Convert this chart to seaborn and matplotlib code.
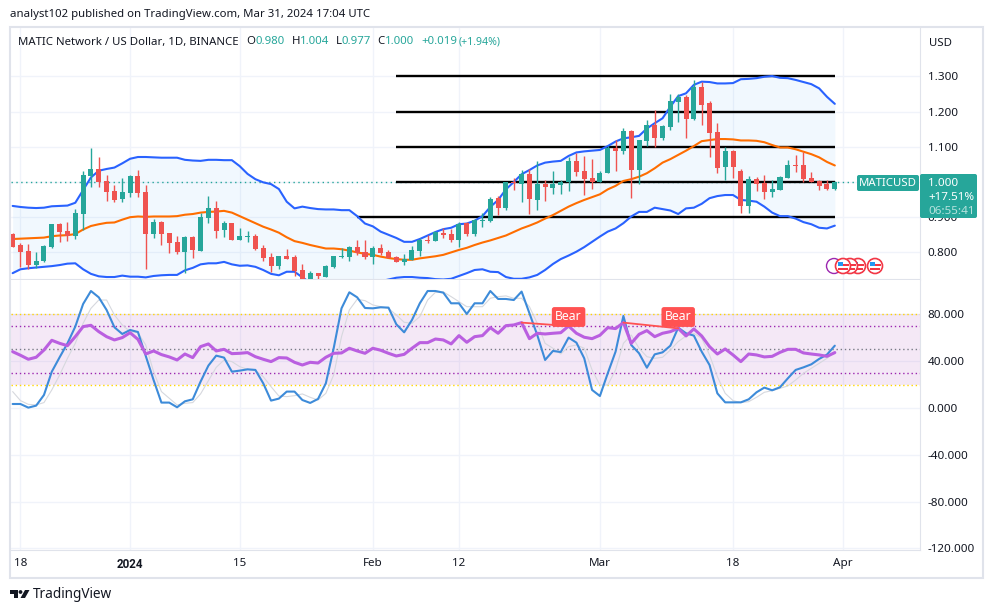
import matplotlib
matplotlib.use('Agg')
import matplotlib.pyplot as plt
from matplotlib.patches import Circle, FancyBboxPatch, Polygon, Rectangle
import numpy as np
import pandas as pd
import seaborn as sns

# Daily candles, 17 Dec 2023 - 31 Mar 2024
opens = [.852,.821,.804,.764,.775,.815,.881,.861,.847,.909,1.017,1.037,1.003,.974,.952,.969,1.017,.972,.852,.886,
         .855,.830,.801,.844,.804,.898,.926,.864,.884,.835,.845,.847,.812,.787,.761,.790,.787,.750,.724,.741,
         .730,.759,.786,.787,.815,.801,.787,.812,.801,.787,.773,.778,.804,.835,.832,.855,.852,.835,.884,.852,
         .889,.889,.955,.926,1.000,.994,1.023,.949,.994,.983,.991,1.000,1.060,1.031,1.011,1.000,1.026,1.097,1.088,1.145,
         1.034,1.116,1.162,1.125,1.156,1.227,1.241,1.179,1.270,1.224,1.142,1.043,1.088,1.031,.932,1.009,.997,.972,.977,1.011,
         1.048,1.048,1.011,1.003,.994,.980]
highs = [.855,.827,.824,.801,.821,.881,.884,.886,.923,1.031,1.097,1.071,1.020,.991,1.011,1.020,1.034,.991,.895,.889,
         .855,.847,.847,.847,.912,.960,.946,.889,.884,.869,.861,.852,.821,.798,.790,.810,.793,.767,.747,.741,
         .764,.790,.812,.818,.835,.835,.818,.824,.807,.790,.795,.818,.841,.849,.861,.869,.866,.886,.886,.895,
         .912,.957,.960,1.000,1.011,1.034,1.037,1.060,1.006,1.031,1.006,1.071,1.082,1.074,1.065,1.031,1.102,1.119,1.153,1.148,
         1.119,1.176,1.205,1.162,1.250,1.250,1.247,1.290,1.284,1.230,1.168,1.099,1.091,1.037,1.017,1.014,1.020,1.006,1.017,1.063,
         1.077,1.085,1.028,1.006,1.006,1.004]
lows = [.816,.758,.752,.755,.773,.812,.830,.832,.838,.864,.986,.986,.946,.943,.943,.957,.957,.753,.841,.821,
        .798,.795,.741,.784,.804,.884,.841,.844,.835,.835,.830,.807,.776,.744,.753,.781,.733,.720,.724,.724,
        .730,.756,.784,.776,.793,.781,.767,.793,.784,.773,.764,.778,.790,.827,.832,.841,.830,.815,.847,.847,
        .872,.886,.906,.920,.977,.943,.909,.920,.946,.966,.966,.974,1.017,.963,.980,1.000,1.026,1.031,1.080,.955,
        .994,1.102,1.099,1.119,1.148,1.170,1.125,1.176,1.162,1.071,1.026,1.006,1.011,.912,.912,.974,.952,.957,.977,1.011,
        1.028,1.000,1.000,.977,.977,.977]
closes = [.816,.801,.764,.776,.818,.881,.858,.847,.912,1.020,1.037,1.000,.972,.949,.972,1.017,.969,.852,.886,.852,
          .827,.801,.844,.807,.901,.926,.861,.884,.835,.847,.847,.810,.784,.761,.790,.781,.747,.724,.741,.733,
          .761,.790,.790,.815,.798,.787,.812,.798,.784,.773,.781,.807,.835,.833,.858,.849,.835,.881,.852,.892,
          .892,.952,.926,1.000,.996,1.022,.952,.994,.986,.994,1.000,1.060,1.028,1.009,1.000,1.026,1.097,1.088,1.145,1.034,
          1.119,1.162,1.125,1.159,1.230,1.241,1.179,1.270,1.219,1.139,1.040,1.088,1.043,.932,1.009,.994,.972,.980,1.014,1.048,
          1.045,1.009,1.000,.989,.980,1.000]

# Bollinger bands
bb_upper = [.932,.929,.927,.926,.927,.931,.932,.933,.941,.977,1.013,1.032,1.037,1.041,1.053,1.066,1.071,1.071,1.070,1.069,
            1.069,1.069,1.063,1.061,1.060,1.063,1.063,1.062,1.062,1.045,1.023,1.008,.999,.994,.980,.944,.925,.930,.926,.923,
            .922,.922,.920,.920,.903,.882,.874,.859,.850,.841,.830,.830,.838,.848,.858,.866,.870,.880,.882,.890,
            .903,.929,.949,.979,1.000,1.022,1.034,1.047,1.055,1.058,1.060,1.074,1.084,1.087,1.089,1.091,1.102,1.115,1.124,1.127,
            1.131,1.152,1.167,1.181,1.214,1.244,1.252,1.276,1.285,1.284,1.280,1.280,1.281,1.292,1.293,1.295,1.299,1.301,1.296,1.295,
            1.290,1.284,1.278,1.266,1.242,1.222]
bb_basis = [.838,.839,.840,.841,.842,.846,.848,.849,.852,.865,.875,.880,.884,.885,.893,.900,.902,.901,.902,.902,
            .902,.903,.907,.909,.913,.915,.916,.918,.913,.903,.893,.883,.873,.865,.856,.843,.832,.827,.821,.816,
            .811,.811,.809,.805,.800,.796,.793,.788,.784,.781,.779,.779,.783,.786,.789,.793,.800,.807,.813,.821,
            .828,.834,.841,.848,.858,.868,.876,.885,.896,.906,.918,.930,.940,.949,.957,.965,.979,.989,1.003,1.008,
            1.015,1.025,1.039,1.055,1.065,1.077,1.089,1.102,1.116,1.119,1.122,1.122,1.121,1.118,1.118,1.117,1.113,1.105,1.098,1.098,
            1.093,1.086,1.079,1.070,1.057,1.047]
bb_lower = [.741,.752,.755,.757,.759,.761,.764,.768,.769,.752,.739,.732,.730,.730,.734,.731,.731,.729,.733,.735,
            .736,.736,.749,.756,.766,.769,.769,.773,.766,.762,.763,.759,.750,.739,.735,.745,.745,.729,.714,.710,
            .707,.705,.703,.703,.703,.705,.710,.718,.723,.728,.730,.730,.728,.727,.724,.723,.725,.733,.741,.750,
            .752,.745,.744,.730,.725,.725,.729,.736,.750,.767,.781,.791,.802,.815,.830,.845,.859,.868,.883,.902,
            .915,.915,.927,.923,.919,.909,.925,.927,.938,.954,.960,.963,.963,.949,.947,.944,.930,.913,.903,.903,
            .896,.886,.880,.870,.868,.876]

# Oscillator panel
rsi = [48.1,45.0,41.6,43.3,49.5,57.8,55.2,53.2,60.9,69.5,70.6,65.2,60.9,58.1,60.1,64.3,58.6,46.1,48.7,45.6,
       43.6,41.0,46.1,43.0,52.4,54.7,48.7,50.1,46.4,46.7,47.3,43.8,41.6,39.6,43.0,42.7,39.0,36.7,39.0,38.4,
       43.3,46.7,47.0,51.0,48.7,46.7,51.0,49.3,46.7,44.4,45.8,51.0,55.8,55.8,58.9,58.1,54.7,61.8,56.1,60.9,
       61.8,68.6,63.8,70.3,70.9,72.9,59.2,63.8,63.2,63.8,64.3,70.0,63.8,60.4,59.2,62.1,68.6,67.8,72.9,55.2,
       62.9,66.1,60.9,63.8,65.2,68.0,61.5,67.5,61.5,52.4,46.1,50.4,45.3,39.6,46.1,45.3,43.6,44.1,47.5,50.1,
       50.1,47.0,46.1,45.3,44.1,47.3]
stoch_k = [3.4,3.4,.3,2.0,11.1,31.0,43.3,55.2,69.5,88.8,99.9,94.5,83.7,68.9,63.2,66.6,64.9,44.4,23.9,4.6,
           4.6,.6,5.7,7.4,22.5,36.2,44.7,43.0,31.0,31.9,33.0,32.5,21.1,6.3,8.0,14.0,14.0,6.8,4.3,7.7,
           21.1,51.0,85.1,98.8,94.5,85.4,85.1,86.0,85.7,71.5,64.6,75.2,89.4,99.9,99.9,98.5,89.4,89.4,80.3,89.4,
           89.4,99.9,93.1,93.1,92.2,99.4,80.9,62.3,41.0,48.7,47.8,60.1,55.8,42.4,15.4,10.2,29.6,48.1,78.6,53.8,
           46.7,34.4,45.8,47.5,53.2,68.6,63.8,61.8,48.1,36.7,12.5,4.8,4.8,4.8,7.4,13.4,17.4,15.1,17.7,25.3,
           32.5,34.7,37.3,41.9,45.6,53.2]
stoch_d = [14.0,6.3,3.1,2.6,4.6,15.4,28.2,42.4,55.2,72.3,85.1,92.2,92.2,79.4,70.9,65.2,64.3,53.8,31.0,14.0,
           8.3,2.6,4.0,4.6,12.0,23.3,34.7,41.0,39.6,35.3,33.0,31.9,26.8,18.2,10.2,9.7,10.5,12.0,9.1,6.8,
           12.5,28.2,60.9,83.7,92.8,91.7,88.0,86.5,85.1,79.4,73.2,72.3,78.0,92.2,98.8,99.1,95.1,90.8,86.5,86.5,
           86.5,93.7,95.1,95.7,93.7,93.7,86.5,72.3,55.2,51.0,46.1,52.4,53.8,51.0,32.5,19.6,19.6,32.5,55.2,62.3,
           51.0,43.8,42.4,43.3,49.5,56.7,61.5,63.8,59.5,45.3,26.8,12.5,6.3,4.6,5.4,9.1,13.4,14.8,16.8,18.8,
           23.9,29.6,33.9,38.1,42.4,48.1]

# Drawn horizontal levels and the day each one starts
level_prices = [1.302, 1.200, 1.100, 1.000, 0.900]
level_starts = ['2024-02-04', '2024-02-04', '2024-02-04', '2024-02-04', '2024-01-30']
level_end = '2024-03-31'

price_ticks = [1.3, 1.2, 1.1, 1.0, 0.9, 0.8]
osc_ticks = [80, 40, 0, -40, -80, -120]
x_tick_dates = ['2023-12-18', '2024-01-01', '2024-01-15', '2024-02-01', '2024-02-12', '2024-03-01', '2024-03-18', '2024-04-01']
x_tick_labels = ['18', '2024', '15', 'Feb', '12', 'Mar', '18', 'Apr']
# start/end day of the two bearish divergence segments
bear_spans = [('2024-02-20', '2024-02-26'), ('2024-03-04', '2024-03-11')]
bear_label_level = 77.7

TEAL = '#26a69a'
RED = '#ef5350'
BLUE = '#2962ff'
ORANGE = '#ff6d00'
GRID = '#f0f3fa'
FRAME = '#e0e3eb'
INK = '#131722'
FONT = 'Noto Sans'

sns.set_style('white')
plt.rcParams['font.family'] = [FONT, 'DejaVu Sans']

dates = pd.date_range('2023-12-17', periods=len(closes))
W, H = 994, 613
fig = plt.figure(figsize=(W / 100, H / 100), dpi=100)


def panel(top, bottom):
    return fig.add_axes([11 / W, 1 - bottom / H, (920 - 11) / W, (bottom - top) / H])


ax = panel(28, 279)
osc = panel(280, 550)
xlim = (pd.Timestamp('2023-12-18') - pd.Timedelta(days=1.21), pd.Timestamp('2023-12-18') + pd.Timedelta(days=114.88))
tick_dates = pd.to_datetime(x_tick_dates)

for a in (ax, osc):
    a.set_xlim(*xlim)
    a.set_xticks(tick_dates)
    a.yaxis.tick_right()
    a.grid(True, color=GRID, lw=1)
    a.set_axisbelow(True)
    a.tick_params(length=0, labelsize=8.4, labelcolor=INK, pad=5.5)
    for s in a.spines.values():
        s.set_visible(False)
    a.spines['right'].set_visible(True)
    a.spines['right'].set_color(FRAME)
    a.spines['bottom'].set_visible(True)
    a.spines['bottom'].set_color(FRAME)
ax.tick_params(labelbottom=False)

# price panel, the 1.000 tick sits behind the last price tag
ax.set_ylim(0.7244, 1.4375)
ax.set_yticks(price_ticks)
ax.set_yticklabels(['' if p == 1.0 else f'{p:.3f}' for p in price_ticks])
ax.fill_between(dates, bb_lower, bb_upper, color='#2196f3', alpha=0.06, lw=0, zorder=1)
ax.axhline(closes[-1], color=TEAL, lw=1, ls=(0, (1, 2.5)), zorder=2)
for lvl, start in zip(level_prices, level_starts):
    ax.hlines(lvl, pd.Timestamp(start), pd.Timestamp(level_end), color='black', lw=1.7, zorder=2)
sns.lineplot(x=dates, y=bb_upper, ax=ax, color=BLUE, lw=1.5, zorder=3)
sns.lineplot(x=dates, y=bb_lower, ax=ax, color=BLUE, lw=1.5, zorder=3)
sns.lineplot(x=dates, y=bb_basis, ax=ax, color=ORANGE, lw=1.5, zorder=3)

colors = [TEAL if c >= o else RED for o, c in zip(opens, closes)]
ax.vlines(dates, lows, highs, colors=colors, lw=1, zorder=4)
o_arr, c_arr = np.array(opens), np.array(closes)
# seaborn styles force a white patch edge, so switch it off for the bodies
ax.bar(dates, np.maximum(np.abs(c_arr - o_arr), 0.002), bottom=np.minimum(o_arr, c_arr), width=0.64,
       color=colors, edgecolor='none', linewidth=0, zorder=5)
ax.set(xlabel='', ylabel='')

# oscillator panel
osc.set_ylim(-121.3, 109.3)
osc.set_yticks(osc_ticks)
osc.set_yticklabels([f'{v:.3f}' for v in osc_ticks])
osc.set_xticklabels(x_tick_labels)
osc.tick_params(axis='x', pad=6)
osc.axhspan(20, 80, color='#9c27b0', alpha=0.1, lw=0, zorder=1)
for lvl, col in [(80, '#ffd600'), (20, '#ffd600'), (70, '#9c27b0'), (30, '#9c27b0'), (50, '#787b86')]:
    osc.axhline(lvl, color=col, lw=1, ls=(0, (1, 2)), zorder=2)
sns.lineplot(x=dates, y=stoch_d, ax=osc, color='#d6d8de', lw=0.8, zorder=3)
sns.lineplot(x=dates, y=stoch_k, ax=osc, color='#3d8bd9', lw=1.5, zorder=4)
sns.lineplot(x=dates, y=rsi, ax=osc, color='#ba5fe0', lw=2.2, zorder=5)
osc.set(xlabel='', ylabel='')
rsi_s = pd.Series(rsi, index=dates)
for start, end in bear_spans:
    s, e = pd.Timestamp(start), pd.Timestamp(end)
    osc.plot([s, e], [rsi_s[s], rsi_s[e]], color='#ff5252', lw=1.3, zorder=6)
    osc.text(e, bear_label_level, 'Bear', ha='center', va='center', color='white', fontsize=8.8, zorder=7,
             bbox=dict(boxstyle='round,pad=0.28,rounding_size=0.2', fc='#ff5252', ec='none'))
for lbl in osc.get_xticklabels():
    if lbl.get_text() == '2024':
        lbl.set_family('Roboto')
        lbl.set_fontweight('bold')

# chrome drawn in pixel coordinates on top of the panels
ov = fig.add_axes([0, 0, 1, 1])
ov.set_xlim(0, W)
ov.set_ylim(H, 0)
ov.axis('off')
ov.set_zorder(10)
ov.patch.set_alpha(0)

ov.add_patch(Rectangle((10, 27), 973, 551, fill=False, ec=FRAME, lw=1.5))
ov.text(10, 15, 'analyst102 published on TradingView.com, Mar 31, 2024 17:04 UTC', fontsize=8.2, color=INK, va='center')
ov.text(18, 42, 'MATIC Network / US Dollar, 1D, BINANCE', fontsize=8.2, color=INK, va='center')
for x, s, c in [(246, 'O', INK), (255, '0.980', TEAL), (292, 'H', INK), (300, '1.004', TEAL), (336, 'L', INK),
                (342, '0.977', TEAL), (377, 'C', INK), (385, '1.000', TEAL), (421, '+0.019', TEAL), (459, '(+1.94%)', TEAL)]:
    ov.text(x, 42, s, fontsize=7.6 if s.startswith('(') else 8.2, color=c, va='center')
ov.text(941, 43, 'USD', fontsize=8.2, color=INK, va='center', ha='center')

# last price tags
ov.add_patch(FancyBboxPatch((857, 175), 62, 16, boxstyle='round,pad=0,rounding_size=2', fc=TEAL, ec='none'))
ov.text(888, 183, 'MATICUSD', color='white', fontsize=8.2, ha='center', va='center')
ov.add_patch(FancyBboxPatch((920, 174), 57, 44, boxstyle='round,pad=0,rounding_size=2', fc=TEAL, ec='none'))
ov.text(928, 183, '1.000', color='white', fontsize=8.4, va='center')
ov.text(928, 197, '+17.51%', color='white', fontsize=8.4, va='center')
ov.text(928, 211, '06:55:41', color='#b5e2dd', fontsize=8.4, va='center')

# event flags
ov.add_patch(Circle((834, 266), 7.5, fc='white', ec='#9c27b0', lw=1))
for cx in [858, 850, 843, 875]:
    ov.add_patch(Circle((cx, 266), 7.5, fc='white', ec='#f23645', lw=1.2))
    ov.add_patch(Rectangle((cx - 5, 262), 5, 4, fc='#2196f3', ec='none'))
    ov.add_patch(Rectangle((cx, 264), 5.5, 2, fc='#f23645', ec='none'))
    ov.add_patch(Rectangle((cx - 5, 268), 10, 2, fc='#f23645', ec='none'))

# footer logo
ov.add_patch(Polygon([(10, 590), (18, 590), (18, 598), (14, 598), (14, 594), (10, 594)], fc=INK, ec='none'))
ov.add_patch(Circle((20.5, 592), 1.9, fc=INK, ec='none'))
ov.add_patch(Polygon([(25, 590), (29.5, 590), (25, 598), (20.5, 598)], fc=INK, ec='none'))
ov.text(33, 595, 'TradingView', fontsize=9.8, color=INK, va='center')

fig.savefig('out.png', dpi=100)
